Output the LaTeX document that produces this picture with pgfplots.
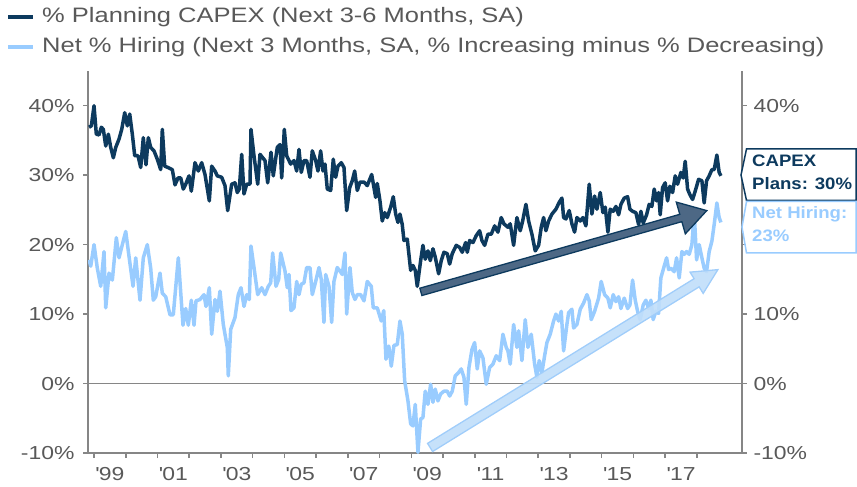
\documentclass[border=0pt]{standalone}
\usepackage{pgfplots}
\pgfplotsset{compat=1.18}
\usepackage{fontspec}
\setmainfont{Liberation Sans}[FakeStretch=1.22]
\newfontfamily\tagfont{Liberation Sans}[FakeStretch=1.12]
\usetikzlibrary{calc}
\definecolor{navy}{RGB}{13,58,94}
\definecolor{lightblue}{RGB}{153,204,255}
\definecolor{textgray}{RGB}{89,89,89}
\definecolor{axisgray}{RGB}{134,134,134}
\definecolor{arrowdark}{RGB}{77,104,133}
\definecolor{arrowlight}{RGB}{192,222,250}
\definecolor{arrowlightedge}{RGB}{160,205,250}
\begin{document}
\begin{tikzpicture}
\begin{axis}[
  at={(88bp,34bp)}, anchor=south west,
  scale only axis, width=654bp, height=382bp,
  xmin=1998.81, xmax=2019.42, ymin=-10, ymax=45,
  axis x line*=bottom, axis y line*=left,
  axis line style={-, draw=axisgray, line width=1.8bp},
  xtick={1999,...,2018}, xticklabels={},
  extra x ticks={1999.5,2001.5,2003.5,2005.5,2007.5,2009.5,2011.5,2013.5,2015.5,2017.5},
  extra x tick labels={{\textquotesingle}99,{\textquotesingle}01,{\textquotesingle}03,{\textquotesingle}05,{\textquotesingle}07,{\textquotesingle}09,{\textquotesingle}11,{\textquotesingle}13,{\textquotesingle}15,{\textquotesingle}17},
  extra x tick style={major tick length=0pt},
  ytick={-10,0,10,20,30,40},
  yticklabels={-10\%,0\%,10\%,20\%,30\%,40\%},
  tick align=outside, major tick length=5bp,
  tick style={draw=axisgray, line width=1.5bp},
  ticklabel style={font=\fontsize{18.8bp}{22bp}\selectfont, text=textgray},
  xticklabel style={yshift=-11bp},
  yticklabel style={xshift=-5bp},
  clip=true,
]
\draw[axisgray, line width=1.5bp] (axis cs:1998.81,0) -- (axis cs:2019.42,0);
\addplot[navy, line width=3.5bp, line join=round] coordinates {
(1998.842,36.9) (1998.915,37.1) (1999.000,40.0) (1999.072,35.9) (1999.158,35.8) (1999.230,36.9)
(1999.293,36.6) (1999.369,34.2) (1999.451,35.9) (1999.526,34.0) (1999.608,32.5) (1999.684,34.0)
(1999.788,35.2) (1999.873,36.6) (1999.967,39.0) (2000.049,37.1) (2000.125,38.8) (2000.207,35.9)
(2000.282,32.8) (2000.386,32.8) (2000.471,31.1) (2000.553,35.4) (2000.638,31.5) (2000.711,35.4)
(2000.786,34.0) (2000.890,33.5) (2000.994,32.3) (2001.101,30.8) (2001.152,36.6) (2001.227,31.3)
(2001.331,31.1) (2001.467,30.8) (2001.552,28.6) (2001.647,29.6) (2001.732,29.6) (2001.813,28.0)
(2001.889,28.7) (2001.993,29.9) (2002.066,27.7) (2002.182,31.8) (2002.286,30.6) (2002.393,31.8)
(2002.497,30.1) (2002.633,26.3) (2002.708,31.3) (2002.812,30.6) (2002.885,29.9) (2003.023,29.7)
(2003.127,28.5) (2003.212,24.9) (2003.338,28.7) (2003.442,28.9) (2003.515,27.5) (2003.578,28.0)
(2003.654,33.0) (2003.726,27.3) (2003.811,28.7) (2003.915,28.7) (2003.946,36.6) (2004.041,32.8)
(2004.158,28.7) (2004.230,33.0) (2004.388,32.1) (2004.473,28.9) (2004.577,33.3) (2004.649,29.9)
(2004.775,34.0) (2004.860,34.4) (2004.914,29.6) (2004.996,36.6) (2005.071,32.8) (2005.197,31.6)
(2005.301,32.1) (2005.386,30.6) (2005.459,33.7) (2005.531,30.4) (2005.616,32.1) (2005.701,32.1)
(2005.805,29.7) (2005.878,33.5) (2005.985,32.1) (2006.057,30.6) (2006.142,33.5) (2006.215,30.6)
(2006.278,31.6) (2006.351,28.0) (2006.458,27.8) (2006.539,32.3) (2006.615,29.7) (2006.687,31.3)
(2006.792,31.8) (2006.877,31.1) (2006.962,24.9) (2007.056,28.2) (2007.138,29.2) (2007.214,30.6)
(2007.296,27.8) (2007.381,29.0) (2007.507,29.0) (2007.611,28.5) (2007.750,30.1) (2007.875,26.8)
(2007.926,28.8) (2008.011,26.3) (2008.083,23.4) (2008.159,24.6) (2008.241,23.9) (2008.348,25.4)
(2008.430,26.9) (2008.506,24.4) (2008.578,23.2) (2008.641,24.4) (2008.713,22.9) (2008.767,20.6)
(2008.871,20.8) (2008.978,16.3) (2009.050,17.0) (2009.123,16.3) (2009.186,14.0) (2009.293,17.7)
(2009.365,19.9) (2009.438,17.9) (2009.523,19.1) (2009.596,17.7) (2009.681,19.4) (2009.753,18.2)
(2009.860,15.8) (2009.942,17.7) (2010.027,18.9) (2010.131,18.7) (2010.207,17.2) (2010.289,18.7)
(2010.415,19.9) (2010.522,19.6) (2010.604,18.9) (2010.711,20.3) (2010.762,18.9) (2010.837,20.6)
(2010.941,20.3) (2011.045,21.3) (2011.152,22.0) (2011.224,20.6) (2011.310,19.9) (2011.413,21.5)
(2011.518,21.5) (2011.625,22.7) (2011.728,21.8) (2011.832,23.9) (2011.917,23.0) (2012.043,22.5)
(2012.116,23.0) (2012.223,19.9) (2012.327,23.9) (2012.431,22.0) (2012.507,23.4) (2012.611,25.8)
(2012.696,23.4) (2012.800,21.5) (2012.904,19.1) (2013.011,19.9) (2013.093,22.5) (2013.168,23.9)
(2013.241,22.0) (2013.326,23.4) (2013.430,24.4) (2013.556,25.1) (2013.660,26.1) (2013.745,26.7)
(2013.798,23.9) (2013.871,23.7) (2013.975,24.9) (2014.060,23.0) (2014.145,21.8) (2014.218,23.9)
(2014.322,23.4) (2014.407,23.9) (2014.501,22.7) (2014.605,28.7) (2014.690,24.4) (2014.775,27.0)
(2014.848,25.1) (2014.952,27.5) (2015.037,24.6) (2015.110,25.4) (2015.194,21.8) (2015.267,25.1)
(2015.362,24.8) (2015.446,25.5) (2015.532,24.3) (2015.604,25.8) (2015.708,26.7) (2015.815,26.9)
(2015.888,25.1) (2015.972,24.8) (2016.076,24.6) (2016.161,22.9) (2016.234,24.8) (2016.306,23.1)
(2016.413,24.3) (2016.495,25.8) (2016.580,25.5) (2016.653,28.0) (2016.728,26.3) (2016.791,27.5)
(2016.842,24.3) (2016.917,28.2) (2016.999,28.9) (2017.075,26.3) (2017.148,28.4) (2017.233,27.5)
(2017.315,29.9) (2017.390,28.7) (2017.494,30.4) (2017.567,29.6) (2017.630,32.0) (2017.705,28.0)
(2017.778,27.2) (2017.863,26.5) (2017.945,27.7) (2018.052,29.4) (2018.156,29.2) (2018.228,26.0)
(2018.303,29.2) (2018.386,29.9) (2018.471,30.8) (2018.543,30.8) (2018.628,32.9) (2018.700,30.4)
(2018.755,29.9)
};
\addplot[lightblue, line width=3.5bp, line join=round] coordinates {
(1998.842,17.8) (1998.896,16.9) (1999.000,20.0) (1999.104,16.6) (1999.211,14.0) (1999.315,19.0)
(1999.369,10.9) (1999.473,15.9) (1999.577,14.9) (1999.703,21.0) (1999.788,18.1) (1999.892,20.0)
(1999.999,21.9) (2000.103,18.3) (2000.229,14.0) (2000.314,18.1) (2000.449,12.0) (2000.553,18.1)
(2000.679,20.0) (2000.786,16.6) (2000.868,12.0) (2000.944,12.5) (2001.079,15.9) (2001.152,13.0)
(2001.259,12.5) (2001.394,9.9) (2001.498,9.9) (2001.656,18.1) (2001.804,8.4) (2001.889,10.8)
(2001.971,8.4) (2002.066,12.0) (2002.151,8.4) (2002.214,11.9) (2002.340,12.1) (2002.466,12.8)
(2002.529,11.1) (2002.633,13.8) (2002.708,7.1) (2002.812,12.1) (2002.885,10.4) (2002.970,13.3)
(2003.074,8.5) (2003.200,5.2) (2003.231,1.1) (2003.307,7.8) (2003.442,9.5) (2003.546,12.8)
(2003.631,13.8) (2003.726,11.1) (2003.811,12.8) (2003.893,12.1) (2003.946,19.8) (2004.041,16.7)
(2004.158,12.8) (2004.284,13.8) (2004.388,12.8) (2004.492,14.0) (2004.567,14.5) (2004.630,18.8)
(2004.734,14.0) (2004.819,15.0) (2004.882,18.8) (2005.018,16.2) (2005.090,13.8) (2005.144,15.7)
(2005.207,10.5) (2005.301,10.9) (2005.386,14.7) (2005.459,12.8) (2005.531,14.3) (2005.616,14.5)
(2005.701,16.7) (2005.805,16.7) (2005.878,12.8) (2005.985,14.7) (2006.089,16.7) (2006.161,15.0)
(2006.246,8.8) (2006.300,15.7) (2006.404,14.0) (2006.489,8.8) (2006.561,14.7) (2006.665,16.7)
(2006.750,16.2) (2006.823,15.7) (2006.908,18.8) (2006.962,10.0) (2007.066,16.7) (2007.138,13.1)
(2007.223,12.1) (2007.296,12.8) (2007.403,12.8) (2007.507,11.9) (2007.611,14.7) (2007.737,14.0)
(2007.800,10.9) (2007.926,10.9) (2008.052,9.0) (2008.130,10.5) (2008.200,3.5) (2008.290,5.4)
(2008.367,2.5) (2008.452,5.5) (2008.556,5.6) (2008.641,9.0) (2008.713,7.1) (2008.789,0.4)
(2008.893,-2.5) (2008.978,-5.8) (2009.050,-6.1) (2009.123,-3.0) (2009.208,-9.9) (2009.293,-5.1)
(2009.365,-4.9) (2009.438,-1.1) (2009.523,-3.0) (2009.608,-0.1) (2009.681,-2.7) (2009.753,-0.8)
(2009.838,-2.5) (2009.923,-1.5) (2010.027,-1.1) (2010.131,-1.1) (2010.207,-1.8) (2010.289,-1.1)
(2010.383,1.1) (2010.490,1.6) (2010.572,2.1) (2010.657,0.9) (2010.730,-3.0) (2010.815,2.3)
(2010.910,4.9) (2010.994,5.9) (2011.076,2.1) (2011.152,4.7) (2011.256,3.7) (2011.360,-0.1)
(2011.467,2.3) (2011.571,2.8) (2011.675,4.0) (2011.782,3.3) (2011.886,7.1) (2011.990,5.2)
(2012.043,4.7) (2012.116,2.8) (2012.223,8.5) (2012.327,5.2) (2012.381,7.6) (2012.485,3.3)
(2012.589,9.2) (2012.674,5.2) (2012.778,7.1) (2012.885,2.8) (2012.957,0.9) (2013.030,3.3)
(2013.115,1.6) (2013.200,4.0) (2013.272,5.9) (2013.376,7.1) (2013.483,9.0) (2013.556,10.0)
(2013.641,9.0) (2013.723,10.4) (2013.798,4.7) (2013.902,8.5) (2013.956,10.2) (2014.060,10.7)
(2014.113,8.0) (2014.218,8.5) (2014.322,10.7) (2014.429,11.6) (2014.533,12.8) (2014.605,11.9)
(2014.669,9.2) (2014.775,10.4) (2014.901,12.3) (2014.983,14.7) (2015.090,12.8) (2015.194,12.3)
(2015.267,10.9) (2015.362,12.8) (2015.446,11.8) (2015.532,12.5) (2015.604,10.8) (2015.708,12.3)
(2015.815,10.8) (2015.888,11.3) (2015.972,14.9) (2016.055,12.0) (2016.130,10.4) (2016.212,9.2)
(2016.306,11.3) (2016.391,12.0) (2016.476,10.8) (2016.549,12.0) (2016.621,9.2) (2016.706,10.4)
(2016.791,10.1) (2016.863,15.2) (2016.968,16.9) (2017.044,18.1) (2017.107,16.4) (2017.180,16.6)
(2017.283,16.1) (2017.359,18.1) (2017.441,15.2) (2017.526,19.0) (2017.598,18.6) (2017.674,19.0)
(2017.756,18.6) (2017.841,20.0) (2017.914,24.6) (2017.989,17.8) (2018.071,20.0) (2018.156,18.1)
(2018.228,16.6) (2018.303,16.1) (2018.386,19.0) (2018.471,20.5) (2018.543,22.9) (2018.628,26.0)
(2018.700,23.9) (2018.755,23.2)
};
\coordinate (dA) at (axis cs:2009.30,13.2);
\coordinate (dB) at (axis cs:2018.31,24.9);
\coordinate (lA) at (axis cs:2009.59,-9.2);
\coordinate (lB) at (axis cs:2018.66,16.4);
\end{axis}
\begin{axis}[
  at={(88bp,34bp)}, anchor=south west,
  scale only axis, width=654bp, height=382bp,
  xmin=1998.81, xmax=2019.42, ymin=-10, ymax=45,
  axis x line=none, axis y line*=right,
  axis line style={-, draw=axisgray, line width=1.8bp},
  ytick={-10,0,10,20,30,40},
  yticklabels={-10\%,0\%,10\%,,,40\%},
  tick align=outside, major tick length=5bp,
  tick style={draw=axisgray, line width=1.5bp},
  ticklabel style={font=\fontsize{18.8bp}{22bp}\selectfont, text=textgray},
  yticklabel style={xshift=3bp},
]
\end{axis}
% trend arrows
\coordinate (dH) at ($(dB)!27bp!(dA)$);
\filldraw[fill=arrowdark, draw=navy, line width=1.3bp, line join=miter]
  ($(dA)!3.8bp!90:(dB)$) -- ($(dH)!3.8bp!90:(dB)$) -- ($(dH)!16.5bp!90:(dB)$) -- (dB)
  -- ($(dH)!16.5bp!-90:(dB)$) -- ($(dH)!3.8bp!-90:(dB)$) -- ($(dA)!3.8bp!-90:(dB)$) -- cycle;
\coordinate (lH) at ($(lB)!25bp!(lA)$);
\filldraw[fill=arrowlight, draw=arrowlightedge, line width=1.3bp, line join=miter, fill opacity=0.9]
  ($(lA)!4.8bp!90:(lB)$) -- ($(lH)!4.8bp!90:(lB)$) -- ($(lH)!12.5bp!90:(lB)$) -- (lB)
  -- ($(lH)!12.5bp!-90:(lB)$) -- ($(lH)!4.8bp!-90:(lB)$) -- ($(lA)!4.8bp!-90:(lB)$) -- cycle;
% value tags
\filldraw[fill=white, draw=navy, line width=1.5bp]
  (741bp,312bp) -- (746.5bp,338bp) -- (856bp,338bp) -- (856bp,286.5bp) -- (746.5bp,286.5bp) -- cycle;
\filldraw[fill=white, draw=lightblue, line width=1.5bp]
  (742bp,260bp) -- (746.5bp,285.5bp) -- (856bp,285.5bp) -- (856bp,234bp) -- (746.5bp,234bp) -- cycle;
\node[anchor=base west, inner sep=0, text=navy, font=\tagfont\fontsize{16.6bp}{20bp}\selectfont\bfseries] at (752bp,320.3bp) {CAPEX};
\node[anchor=base west, inner sep=0, text=navy, font=\tagfont\fontsize{16.6bp}{20bp}\selectfont\bfseries] at (752bp,297bp) {Plans: 30\%};
\node[anchor=base west, inner sep=0, text=lightblue, font=\tagfont\fontsize{16.6bp}{20bp}\selectfont\bfseries] at (752bp,268.7bp) {Net Hiring:};
\node[anchor=base west, inner sep=0, text=lightblue, font=\tagfont\fontsize{16.6bp}{20bp}\selectfont\bfseries] at (752bp,245.3bp) {23\%};
% legend
\draw[navy, line width=4bp] (8bp,470bp) -- (33bp,470bp);
\node[anchor=west, inner sep=0, text=textgray, font=\fontsize{20.9bp}{24bp}\selectfont] at (42bp,470bp) {\% Planning CAPEX (Next 3-6 Months, SA)};
\draw[lightblue, line width=4bp] (8bp,440bp) -- (33bp,440bp);
\node[anchor=west, inner sep=0, text=textgray, font=\fontsize{20.9bp}{24bp}\selectfont] at (42bp,440bp) {Net \% Hiring (Next 3 Months, SA, \% Increasing minus \% Decreasing)};
\pgfresetboundingbox
\useasboundingbox (0,0) rectangle (857bp,487bp);
\end{tikzpicture}
\end{document}
